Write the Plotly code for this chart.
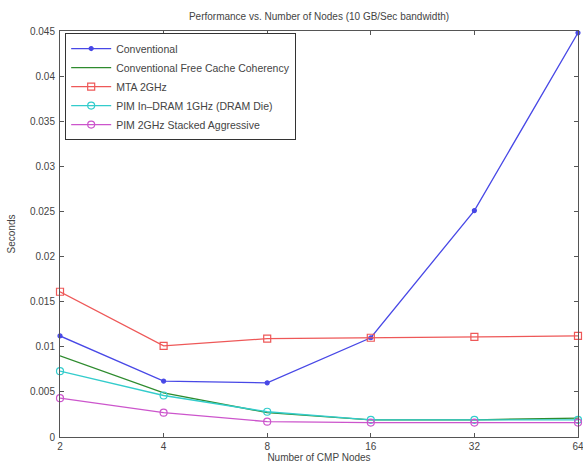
import plotly.graph_objects as go

nodes = [2, 4, 8, 16, 32, 64]
tick_labels = ["2", "4", "8", "16", "32", "64"]
conventional = [0.0112, 0.0062, 0.0060, 0.0110, 0.0251, 0.0448]
conv_free_cache = [0.0090, 0.0049, 0.0027, 0.0019, 0.0019, 0.0021]
mta_2ghz = [0.0161, 0.0101, 0.0109, 0.0110, 0.0111, 0.0112]
pim_in_dram = [0.0073, 0.0046, 0.0028, 0.0019, 0.0019, 0.0019]
pim_stacked = [0.0043, 0.0027, 0.0017, 0.0016, 0.0016, 0.0016]
y_ticks = [0, 0.005, 0.01, 0.015, 0.02, 0.025, 0.03, 0.035, 0.04, 0.045]
y_labels = ["0", "0.005", "0.01", "0.015", "0.02", "0.025", "0.03", "0.035", "0.04", "0.045"]

series = [
    ("Conventional", conventional, "#4848e6", "circle", 4),
    ("Conventional Free Cache Coherency", conv_free_cache, "#2e8b2e", None, 0),
    ("MTA 2GHz", mta_2ghz, "#ee5858", "square-open", 7),
    ("PIM In\u2013DRAM 1GHz (DRAM Die)", pim_in_dram, "#33cccc", "circle-open", 7),
    ("PIM 2GHz Stacked Aggressive", pim_stacked, "#cc55cc", "circle-open", 7),
]

fig = go.Figure()
for name, vals, color, sym, size in series:
    if sym:
        fig.add_trace(go.Scatter(x=nodes, y=vals, name=name, mode="lines+markers",
                                 cliponaxis=False,
                                 line=dict(color=color, width=1.3),
                                 marker=dict(symbol=sym, size=size, color=color,
                                             line=dict(color=color, width=1.2))))
    else:
        fig.add_trace(go.Scatter(x=nodes, y=vals, name=name, mode="lines",
                                 cliponaxis=False,
                                 line=dict(color=color, width=1.3)))

axis_common = dict(showgrid=False, zeroline=False, showline=True, linecolor="#555555",
                   linewidth=1, mirror="ticks", ticks="inside", ticklen=4,
                   tickcolor="#555555", automargin=False, ticklabeloverflow="allow",
                   tickfont=dict(size=10, color="#444444", family="Liberation Sans, Arial"))

fig.update_layout(
    width=583, height=468,
    paper_bgcolor="white", plot_bgcolor="white",
    margin=dict(l=60, r=5, t=31, b=31),
    font=dict(family="Liberation Sans, Arial", size=10, color="#444444"),
    title=dict(text="Performance vs. Number of Nodes (10 GB/Sec bandwidth)",
               xref="paper", x=0.5, xanchor="center", yref="container",
               y=1 - 16 / 468, yanchor="middle",
               font=dict(size=10, color="#444444")),
    xaxis=dict(type="log", range=[0.30100, 1.80622], tickvals=nodes, ticktext=tick_labels,
               title=dict(text="Number of CMP Nodes", standoff=2, font=dict(size=10)),
               **axis_common),
    yaxis=dict(range=[0, 0.045], tickvals=y_ticks, ticktext=y_labels,
               ticklabelstandoff=2,
               title=dict(text="Seconds", standoff=12, font=dict(size=10)),
               **axis_common),
    legend=dict(x=0.01, y=0.995, xanchor="left", yanchor="top",
                bordercolor="#333333", borderwidth=1, bgcolor="white",
                font=dict(size=10.5, color="#444444"), tracegroupgap=0,
                itemwidth=40),
    showlegend=True,
)

fig.write_html("out.html", config={"displayModeBar": False},
               post_script="document.body.style.margin='0';")
